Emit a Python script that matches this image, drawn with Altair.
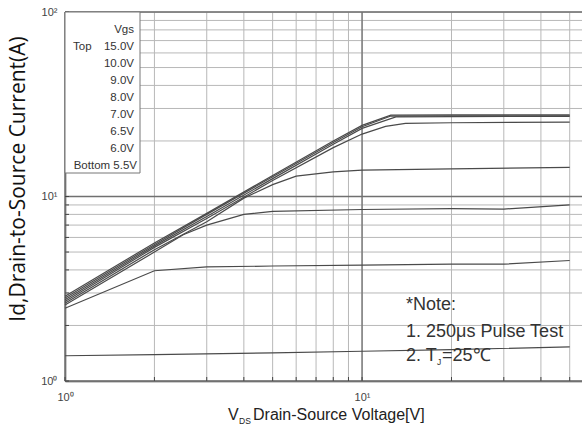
import altair as alt
import pandas as pd

# ---- output characteristics: drain current vs drain-source voltage, per Vgs ----
vgs_labels = ["15.0V", "10.0V", "9.0V", "8.0V", "7.0V", "6.5V", "6.0V", "5.5V"]

vds_15 = [1, 2, 3, 5, 8, 10, 12.5, 20, 50]
id_15 = [2.88, 5.6, 8.1, 13.0, 20.0, 24.3, 27.6, 27.7, 27.7]

vds_10 = [1, 2, 3, 5, 8, 10, 12.5, 20, 50]
id_10 = [2.82, 5.5, 8.0, 12.8, 19.6, 23.9, 27.3, 27.4, 27.4]

vds_9 = [1, 2, 3, 5, 8, 10, 13, 20, 50]
id_9 = [2.76, 5.4, 7.8, 12.5, 19.2, 23.4, 27.0, 27.1, 27.2]

vds_8 = [1, 2, 3, 5, 8, 10, 12, 14, 20, 50]
id_8 = [2.7, 5.3, 7.6, 12.2, 18.4, 21.8, 24.0, 24.9, 25.1, 25.3]

vds_7 = [1, 2, 3, 4, 5, 6, 8, 10, 20, 50]
id_7 = [2.64, 5.15, 7.3, 9.8, 11.6, 12.9, 13.6, 13.9, 14.1, 14.4]

vds_65 = [1, 2, 2.5, 3, 4, 5, 10, 20, 30, 50]
id_65 = [2.58, 5.0, 6.2, 7.0, 8.0, 8.3, 8.5, 8.6, 8.55, 9.0]

vds_6 = [1, 2, 3, 5, 10, 20, 30, 50]
id_6 = [2.48, 3.96, 4.15, 4.2, 4.25, 4.3, 4.3, 4.5]

vds_55 = [1, 2, 5, 10, 20, 50]
id_55 = [1.37, 1.39, 1.42, 1.45, 1.48, 1.53]

curves = [
    ("15.0V", vds_15, id_15), ("10.0V", vds_10, id_10), ("9.0V", vds_9, id_9),
    ("8.0V", vds_8, id_8), ("7.0V", vds_7, id_7), ("6.5V", vds_65, id_65),
    ("6.0V", vds_6, id_6), ("5.5V", vds_55, id_55),
]

# grid positions on the log axes
x_grid = [1, 2, 3, 4, 5, 6, 7, 8, 9, 10, 20, 30, 40, 50]
y_grid = [1, 2, 3, 4, 5, 6, 7, 8, 9, 10, 20, 30, 40, 50, 60, 70, 80, 90, 100]
decades_x = [1, 10]
decades_y = [1, 10, 100]

# legend box rows and note lines
legend_rows = ["Vgs", "15.0V", "10.0V", "9.0V", "8.0V", "7.0V", "6.5V", "6.0V", "Bottom 5.5V"]
note_lines = ["*Note:", "1. 250\u03bcs Pulse Test"]

W, H = 517, 369
X_DOMAIN = [1, 55]
Y_DOMAIN = [1, 100]

rows = []
for name, xs, ys in curves:
    for i, (xv, yv) in enumerate(zip(xs, ys)):
        rows.append({"vgs": name, "vds": xv, "id": yv, "k": i})
df = pd.DataFrame(rows)

xs = alt.Scale(type="log", domain=X_DOMAIN, nice=False)
ys = alt.Scale(type="log", domain=Y_DOMAIN, nice=False)

label_expr = "datum.value == 1 ? '10\u2070' : datum.value == 10 ? '10\u00b9' : datum.value == 100 ? '10\u00b2' : ''"

FONT = "Liberation Sans"
NOTE_SIZE = 18

xgrid = alt.Chart(pd.DataFrame({"v": x_grid})).mark_rule(color="#b8b8b8", strokeWidth=1).encode(
    x=alt.X("v:Q", scale=xs,
            axis=alt.Axis(values=[1, 10], labelExpr=label_expr, title=None, ticks=False,
                          grid=False, domainColor="#333", domainWidth=1.5, labelFlush=False,
                          labelFont=FONT, labelFontSize=11, labelColor="#444",
                          labelPadding=10)),
)
ygrid = alt.Chart(pd.DataFrame({"v": y_grid})).mark_rule(color="#b8b8b8", strokeWidth=1).encode(
    y=alt.Y("v:Q", scale=ys,
            axis=alt.Axis(values=[1, 10, 100], labelExpr=label_expr, title=None, ticks=False,
                          grid=False, domainColor="#333", domainWidth=1.5, labelFlush=False,
                          labelFont=FONT, labelFontSize=11, labelColor="#444",
                          labelPadding=8)),
)
xdec = alt.Chart(pd.DataFrame({"v": decades_x})).mark_rule(color="#707070", strokeWidth=1.3).encode(
    x=alt.X("v:Q", scale=xs))
ydec = alt.Chart(pd.DataFrame({"v": decades_y})).mark_rule(color="#707070", strokeWidth=1.3).encode(
    y=alt.Y("v:Q", scale=ys))

# short inward ticks along the bottom and left axes
xticks = alt.Chart(pd.DataFrame({"v": x_grid})).mark_rule(color="#444", strokeWidth=1).encode(
    x=alt.X("v:Q", scale=xs), y=alt.value(H), y2=alt.value(H - 4))
yticks = alt.Chart(pd.DataFrame({"v": y_grid})).mark_rule(color="#444", strokeWidth=1).encode(
    y=alt.Y("v:Q", scale=ys), x=alt.value(0), x2=alt.value(4))

lines = alt.Chart(df).mark_line(color="#4a4a4a", strokeWidth=1.2).encode(
    x=alt.X("vds:Q", scale=xs),
    y=alt.Y("id:Q", scale=ys),
    detail="vgs:N",
    order="k:Q",
)

# legend box
box = alt.Chart(pd.DataFrame({"a": [0]})).mark_rect(fill="white", stroke="#777", strokeWidth=1).encode(
    x=alt.value(0), x2=alt.value(75), y=alt.value(0), y2=alt.value(161))
leg_df = pd.DataFrame({"t": legend_rows, "r": list(range(len(legend_rows)))})
leg_text = alt.Chart(leg_df).mark_text(align="right", baseline="middle", font=FONT,
                                       fontSize=11.5, color="#333").transform_calculate(
    px="datum.r == 8 ? 72 : 69",
    py="18 + 17 * datum.r",
).encode(x=alt.X("px:Q", scale=None), y=alt.Y("py:Q", scale=None), text="t:N")
leg_top = alt.Chart(pd.DataFrame({"t": ["Top"]})).mark_text(
    align="left", baseline="middle", font=FONT, fontSize=11.5, color="#333").encode(
    x=alt.value(8), y=alt.value(35), text="t:N")

# note text
note_df = pd.DataFrame({"t": note_lines, "r": [0, 1]})
note = alt.Chart(note_df).mark_text(align="left", baseline="alphabetic", font=FONT,
                                    fontSize=NOTE_SIZE, color="#333").transform_calculate(
    py="298 + 27 * datum.r").encode(x=alt.value(341), y=alt.Y("py:Q", scale=None), text="t:N")
note3a = alt.Chart(pd.DataFrame({"t": ["2. T"]})).mark_text(
    align="left", baseline="alphabetic", font=FONT, fontSize=NOTE_SIZE, color="#333").encode(
    x=alt.value(341), y=alt.value(349), text="t:N")
note3b = alt.Chart(pd.DataFrame({"t": ["J"]})).mark_text(
    align="left", baseline="alphabetic", font=FONT, fontSize=8.5, color="#333").encode(
    x=alt.value(372), y=alt.value(353), text="t:N")
note3c = alt.Chart(pd.DataFrame({"t": ["=25\u2103"]})).mark_text(
    align="left", baseline="alphabetic", font=FONT, fontSize=NOTE_SIZE, color="#333").encode(
    x=alt.value(377), y=alt.value(349), text="t:N")

# axis titles
ytitle = alt.Chart(pd.DataFrame({"t": ["Id,Drain-to-Source Current(A)"]})).mark_text(
    angle=270, align="center", baseline="middle", font="Open Sans", fontSize=21, color="#111").encode(
    x=alt.value(-46), y=alt.value(167), text="t:N")
xt_v = alt.Chart(pd.DataFrame({"t": ["V"]})).mark_text(
    align="left", baseline="alphabetic", font=FONT, fontSize=16, color="#222").encode(
    x=alt.value(163), y=alt.value(39 + H), text="t:N")
xt_ds = alt.Chart(pd.DataFrame({"t": ["DS"]})).mark_text(
    align="left", baseline="alphabetic", font=FONT, fontSize=8.5, color="#222").encode(
    x=alt.value(174), y=alt.value(43 + H), text="t:N")
xt_main = alt.Chart(pd.DataFrame({"t": ["Drain-Source Voltage[V]"]})).mark_text(
    align="left", baseline="alphabetic", font=FONT, fontSize=16, color="#222").encode(
    x=alt.value(188), y=alt.value(39 + H), text="t:N")

chart = alt.layer(
    xgrid, ygrid, xdec, ydec, xticks, yticks, lines, box, leg_text, leg_top,
    note, note3a, note3b, note3c, ytitle, xt_v, xt_ds, xt_main,
).properties(
    width=W, height=H,
    autosize=alt.AutoSizeParams(type="none"),
    padding={"left": 65, "top": 12, "right": 0, "bottom": 46},
).configure_view(stroke=None).configure(background="white")

chart.save("out.html", embed_options={"renderer": "svg", "actions": False})
